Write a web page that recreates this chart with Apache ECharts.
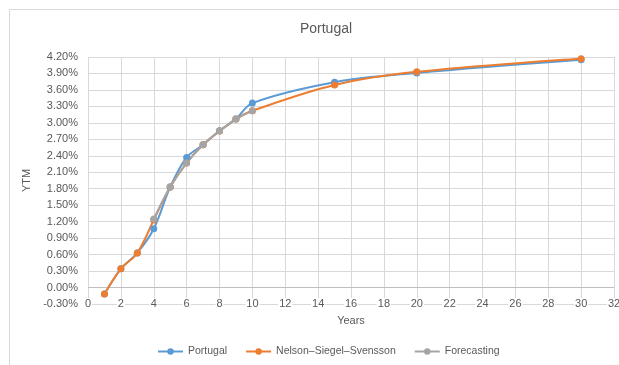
<!DOCTYPE html>
<html>
<head>
<meta charset="utf-8">
<script src="https://cdn.jsdelivr.net/npm/echarts@6/dist/echarts.min.js"></script>
<style>
  html, body { margin: 0; padding: 0; background: #fff; }
  #chart { width: 619px; height: 365px; }
</style>
</head>
<body>
<div id="chart"></div>
<script>
// maturities in years
const maturities = [1, 2, 3, 4, 5, 6, 7, 8, 9, 10, 15, 20, 30]
// yields in %
const portugal = [-0.12, 0.34, 0.63, 1.07, 1.83, 2.37, 2.60, 2.855, 3.07, 3.36, 3.74, 3.91, 4.15]
const nss = [-0.12, 0.34, 0.63, 1.23, 1.83, 2.27, 2.60, 2.85, 3.07, 3.22, 3.69, 3.93, 4.17]
const forecastYears = [4, 5, 6, 7, 8, 9, 10]
const forecasting = [1.25, 1.83, 2.27, 2.60, 2.85, 3.07, 3.22]

const font = 'Liberation Sans'
const textColor = '#595959'

function pairs(xs, ys) {
  return xs.map((x, i) => [x, ys[i]])
}

function lineSeries(name, data, color) {
  return {
    name: name,
    type: 'line',
    data: data,
    smooth: 0.35,
    symbol: 'circle',
    symbolSize: 7,
    lineStyle: { color: color, width: 2 },
    itemStyle: { color: color },
    z: 3
  }
}

const chart = echarts.init(document.getElementById('chart'))

const series = [
  lineSeries('Portugal', pairs(maturities, portugal), '#5B9BD5'),
  lineSeries('Nelson–Siegel–Svensson', pairs(maturities, nss), '#ED7D31'),
  lineSeries('Forecasting', pairs(forecastYears, forecasting), '#A5A5A5')
]
// horizontal axis line crossing at 0
series[0].markLine = {
  silent: true,
  symbol: 'none',
  label: { show: false },
  lineStyle: { color: '#bfbfbf', type: 'solid', width: 1 },
  data: [{ yAxis: 0 }],
  z: 1
}

chart.setOption({
  animation: false,
  textStyle: { fontFamily: font },
  graphic: [{
    type: 'rect',
    shape: { x: 9.5, y: 9.5, width: 700, height: 500 },
    style: { fill: 'none', stroke: '#d9d9d9', lineWidth: 1 },
    silent: true
  }],
  title: {
    text: 'Portugal',
    left: 321,
    textAlign: 'center',
    top: 17,
    textStyle: { fontFamily: font, fontSize: 14, fontWeight: 'normal', color: textColor }
  },
  legend: {
    bottom: 3,
    left: 152,
    itemWidth: 25,
    itemHeight: 8,
    itemGap: 18,
    textStyle: { fontFamily: font, fontSize: 10.5, color: textColor },
    data: ['Portugal', 'Nelson–Siegel–Svensson', 'Forecasting']
  },
  grid: { left: 88, right: 5, top: 57, bottom: 61, outerBoundsMode: 'none' },
  xAxis: {
    type: 'value',
    min: 0,
    max: 32,
    interval: 2,
    name: 'Years',
    nameLocation: 'middle',
    nameGap: 11,
    nameTextStyle: { fontFamily: font, fontSize: 11, color: textColor },
    axisLine: { show: false },
    axisTick: { show: false },
    axisLabel: {
      fontFamily: font,
      fontSize: 11,
      color: textColor,
      margin: -6,
      backgroundColor: '#fff',
      padding: [0, 1]
    },
    splitLine: { show: true, lineStyle: { color: '#d9d9d9' } }
  },
  yAxis: {
    type: 'value',
    min: -0.3,
    max: 4.2,
    interval: 0.3,
    name: 'YTM',
    nameLocation: 'middle',
    nameGap: 41,
    nameTextStyle: { fontFamily: font, fontSize: 11, color: textColor },
    axisLine: { show: false },
    axisTick: { show: false },
    axisLabel: {
      fontFamily: font,
      fontSize: 11,
      color: textColor,
      margin: 10,
      formatter: v => v.toFixed(2) + '%'
    },
    splitLine: { show: true, lineStyle: { color: '#d9d9d9' } }
  },
  series: series
})
</script>
</body>
</html>
